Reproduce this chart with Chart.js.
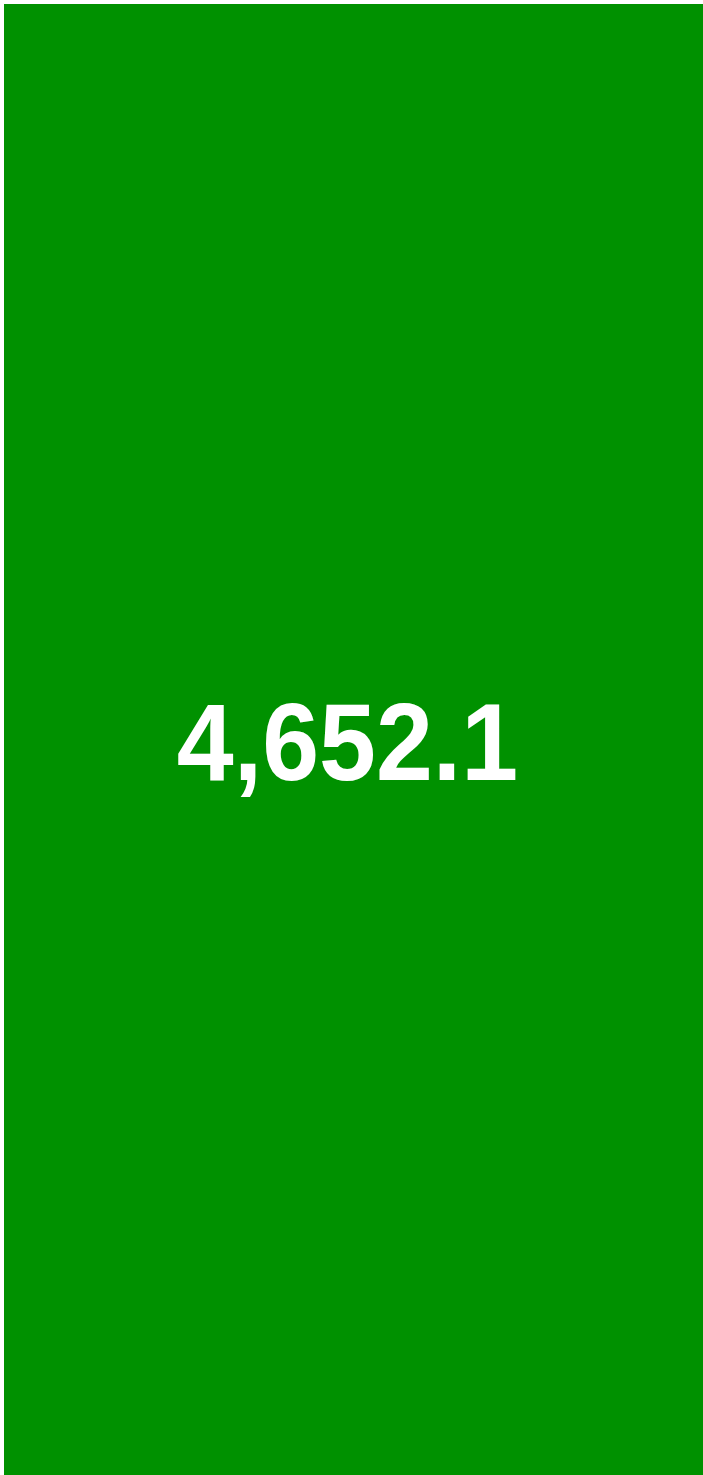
<!DOCTYPE html>
<html>
<head>
<meta charset="utf-8">
<script src="https://cdn.jsdelivr.net/npm/chart.js@4"></script>
<style>
  html, body { margin: 0; padding: 0; background: #fff; }
  canvas { display: block; }
</style>
</head>
<body>
<canvas id="myChart" width="703" height="1475"></canvas>
<script>
const labels = ['Total'];
const values = [4652.1];

// writes the value in the middle of the bar
const valueLabel = {
  id: 'valueLabel',
  afterDatasetsDraw(chart) {
    const ctx = chart.ctx;
    const meta = chart.getDatasetMeta(0);
    meta.data.forEach((bar, i) => {
      const mid = (bar.y + bar.base) / 2;
      ctx.save();
      ctx.fillStyle = '#ffffff';
      ctx.font = 'bold 110px "Liberation Sans", Arial, sans-serif';
      ctx.textAlign = 'center';
      ctx.textBaseline = 'alphabetic';
      // reference face is a bit narrower than Liberation Sans
      ctx.translate(bar.x - 6, mid + 40);
      ctx.scale(0.93, 1);
      ctx.fillText(values[i].toLocaleString('en-US', {minimumFractionDigits: 1}), 0, 0);
      ctx.restore();
    });
  }
};

const data = {
  labels: labels,
  datasets: [{
    data: values,
    backgroundColor: 'rgb(0, 145, 0)',
    borderWidth: 0,
    barPercentage: 1,
    categoryPercentage: 1
  }]
};

const config = {
  type: 'bar',
  data: data,
  options: {
    responsive: false,
    animation: false,
    layout: {
      padding: { left: 4, top: 4, right: 0, bottom: 0 }
    },
    scales: {
      x: { display: false },
      y: { display: false, min: 0, max: values[0] }
    },
    plugins: {
      legend: { display: false },
      tooltip: { enabled: false }
    }
  },
  plugins: [valueLabel]
};

const myChart = new Chart(
  document.getElementById('myChart'),
  config
);
</script>
</body>
</html>
